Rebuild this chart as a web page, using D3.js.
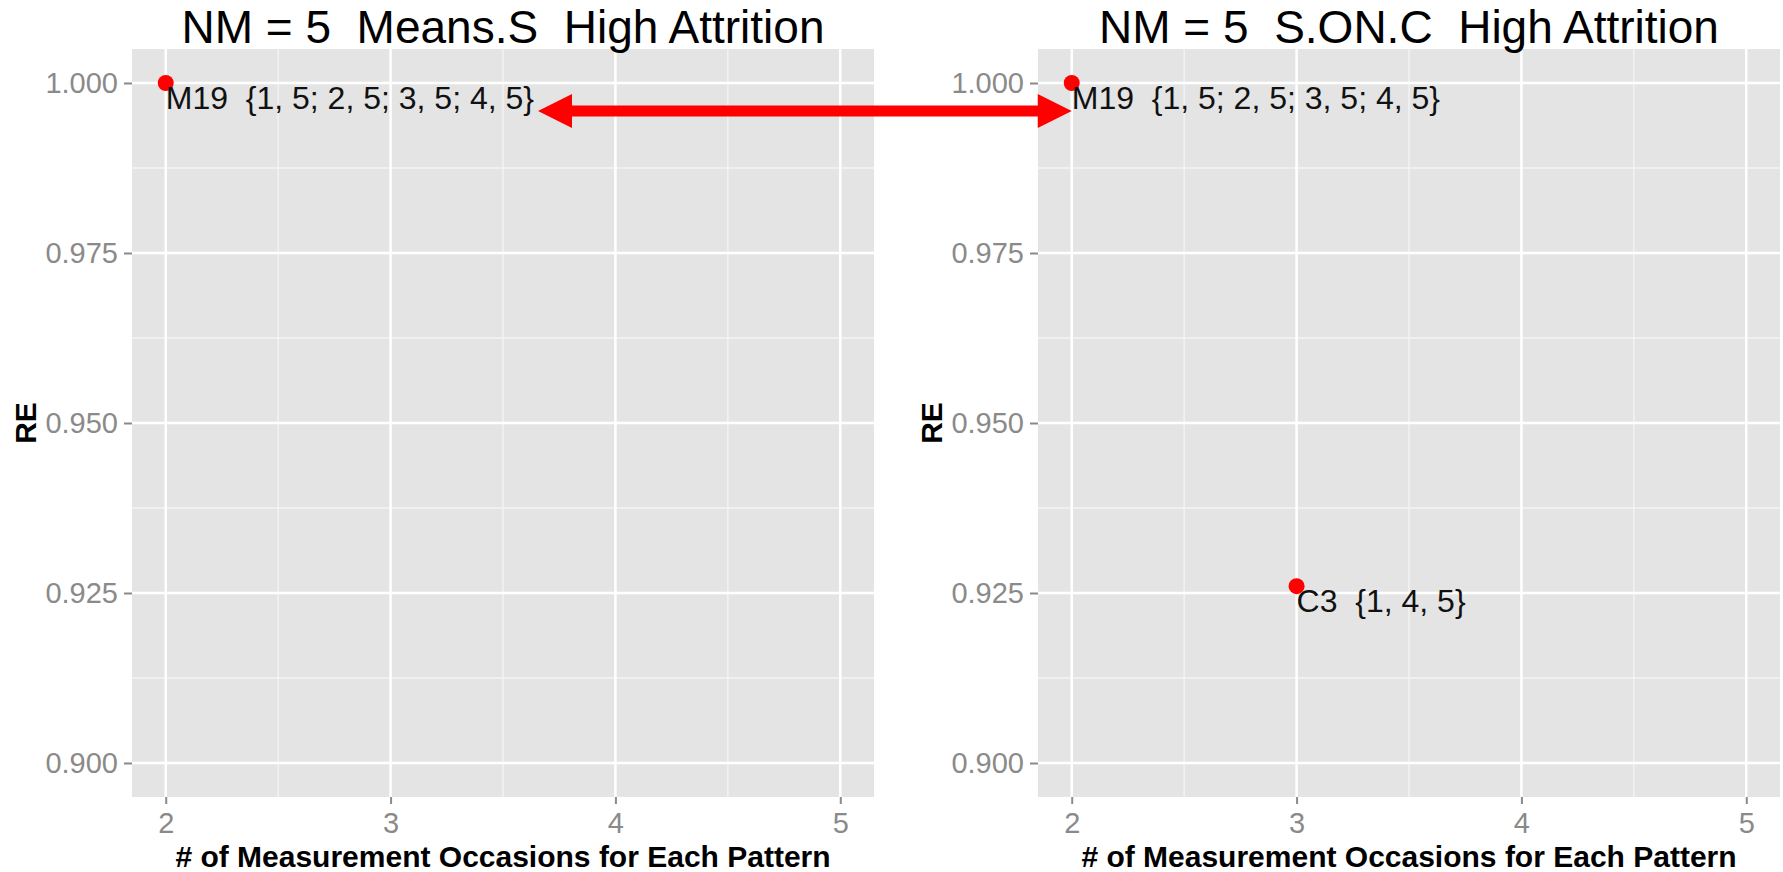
<!DOCTYPE html>
<html>
<head>
<meta charset="utf-8">
<script src="https://cdn.jsdelivr.net/npm/d3@7/dist/d3.min.js"></script>
<style>
  html, body { margin: 0; padding: 0; background: #ffffff; }
  svg { display: block; font-family: "Liberation Sans", Arial, sans-serif; }
  text { white-space: pre; }
</style>
</head>
<body>
<svg id="chart" width="1783" height="872"></svg>
<script>
// Facet panels
const panelNames = ["Means.S", "S.ON.C"];
const panelTitles = ["NM = 5  Means.S  High Attrition", "NM = 5  S.ON.C  High Attrition"];

// Points (one row per labelled pattern)
const pointPanel = ["Means.S", "S.ON.C", "S.ON.C"];
const pointX = [2, 2, 3];
const pointRE = [1.000, 1.000, 0.926];
const pointLabel = [
  "M19  {1, 5; 2, 5; 3, 5; 4, 5}",
  "M19  {1, 5; 2, 5; 3, 5; 4, 5}",
  "C3  {1, 4, 5}"
];

// Axis ticks
const xTicks = [2, 3, 4, 5];
const xMinor = [2.5, 3.5, 4.5];
const yTicks = [0.900, 0.925, 0.950, 0.975, 1.000];
const yMinor = [0.9125, 0.9375, 0.9625, 0.9875];
const xTitle = "# of Measurement Occasions for Each Pattern";
const yTitle = "RE";

// Layout
const panelLeft = [132, 1038];
const panelTop = 49;
const panelW = 742;
const panelH = 748;

const svg = d3.select("#chart");

const x = d3.scaleLinear().domain([1.85, 5.15]).range([0, panelW]);
const y = d3.scaleLinear().domain([0.895, 1.005]).range([panelH, 0]);

const points = pointX.map((v, i) => ({
  panel: pointPanel[i], x: v, re: pointRE[i], label: pointLabel[i]
}));

const labelNodes = {};

panelNames.forEach((name, p) => {
  const g = svg.append("g").attr("transform", `translate(${panelLeft[p]},${panelTop})`);

  // title
  svg.append("text")
    .attr("x", panelLeft[p] + panelW / 2)
    .attr("y", 43)
    .attr("text-anchor", "middle")
    .attr("font-size", 46)
    .attr("fill", "#000")
    .text(panelTitles[p]);

  // background
  g.append("rect").attr("width", panelW).attr("height", panelH).attr("fill", "#e4e4e4");

  // minor grid
  g.selectAll(".gxm").data(xMinor).join("line")
    .attr("x1", d => x(d)).attr("x2", d => x(d))
    .attr("y1", 0).attr("y2", panelH)
    .attr("stroke", "#f4f4f4").attr("stroke-width", 1.3);
  g.selectAll(".gym").data(yMinor).join("line")
    .attr("y1", d => y(d)).attr("y2", d => y(d))
    .attr("x1", 0).attr("x2", panelW)
    .attr("stroke", "#f4f4f4").attr("stroke-width", 1.3);

  // major grid
  g.selectAll(".gx").data(xTicks).join("line")
    .attr("x1", d => x(d)).attr("x2", d => x(d))
    .attr("y1", 0).attr("y2", panelH)
    .attr("stroke", "#ffffff").attr("stroke-width", 2.5);
  g.selectAll(".gy").data(yTicks).join("line")
    .attr("y1", d => y(d)).attr("y2", d => y(d))
    .attr("x1", 0).attr("x2", panelW)
    .attr("stroke", "#ffffff").attr("stroke-width", 2.5);

  // y axis
  const yAxis = g.append("g")
    .call(d3.axisLeft(y).tickValues(yTicks).tickFormat(d3.format(".3f")).tickSize(8).tickPadding(6));
  yAxis.select(".domain").remove();
  yAxis.selectAll(".tick line").attr("stroke", "#8a8a8a").attr("stroke-width", 2);
  yAxis.selectAll(".tick text")
    .attr("fill", "#8a8a8a").attr("font-size", 29)
    .attr("font-family", "Liberation Sans, Arial, sans-serif");

  // x axis
  const xAxis = g.append("g").attr("transform", `translate(0,${panelH})`)
    .call(d3.axisBottom(x).tickValues(xTicks).tickFormat(d3.format("d")).tickSize(7).tickPadding(8));
  xAxis.select(".domain").remove();
  xAxis.selectAll(".tick line").attr("stroke", "#8a8a8a").attr("stroke-width", 2);
  xAxis.selectAll(".tick text")
    .attr("fill", "#8a8a8a").attr("font-size", 29)
    .attr("font-family", "Liberation Sans, Arial, sans-serif");

  // axis titles
  svg.append("text")
    .attr("x", panelLeft[p] + panelW / 2)
    .attr("y", 867)
    .attr("text-anchor", "middle")
    .attr("font-size", 30).attr("font-weight", "bold")
    .attr("fill", "#000")
    .text(xTitle);
  svg.append("text")
    .attr("transform", `translate(${panelLeft[p] - 96},${panelTop + panelH / 2}) rotate(-90)`)
    .attr("text-anchor", "middle")
    .attr("font-size", 30).attr("font-weight", "bold")
    .attr("fill", "#000")
    .text(yTitle);

  // points and labels
  const pts = points.filter(d => d.panel === name);
  g.selectAll(".pt").data(pts).join("circle")
    .attr("cx", d => x(d.x)).attr("cy", d => y(d.re))
    .attr("r", 8).attr("fill", "#ff0000");
  g.selectAll(".lbl").data(pts).join("text")
    .attr("x", d => x(d.x))
    .attr("y", d => y(d.re) + 26)
    .attr("font-size", 32)
    .attr("fill", "#111")
    .text(d => d.label)
    .each(function (d) {
      labelNodes[name + "|" + d.label] = { node: this, d: d, left: panelLeft[p] };
    });
});

// Double-headed arrow linking the shared M19 pattern in both panels
const leftLbl = labelNodes["Means.S|" + pointLabel[0]];
const rightLbl = labelNodes["S.ON.C|" + pointLabel[1]];
const ax1 = leftLbl.left + x(leftLbl.d.x) + leftLbl.node.getComputedTextLength() + 4;
const ax2 = rightLbl.left + x(rightLbl.d.x);
const ay = panelTop + y(leftLbl.d.re) + 28;
const headLen = 34, headHalf = 17, shaft = 11;

const arrow = svg.append("g").attr("fill", "#ff0000");
arrow.append("rect")
  .attr("x", ax1 + headLen - 2).attr("y", ay - shaft / 2)
  .attr("width", ax2 - ax1 - 2 * headLen + 4).attr("height", shaft);
arrow.append("path")
  .attr("d", `M${ax1},${ay} L${ax1 + headLen},${ay - headHalf} L${ax1 + headLen},${ay + headHalf} Z`);
arrow.append("path")
  .attr("d", `M${ax2},${ay} L${ax2 - headLen},${ay - headHalf} L${ax2 - headLen},${ay + headHalf} Z`);
</script>
</body>
</html>
